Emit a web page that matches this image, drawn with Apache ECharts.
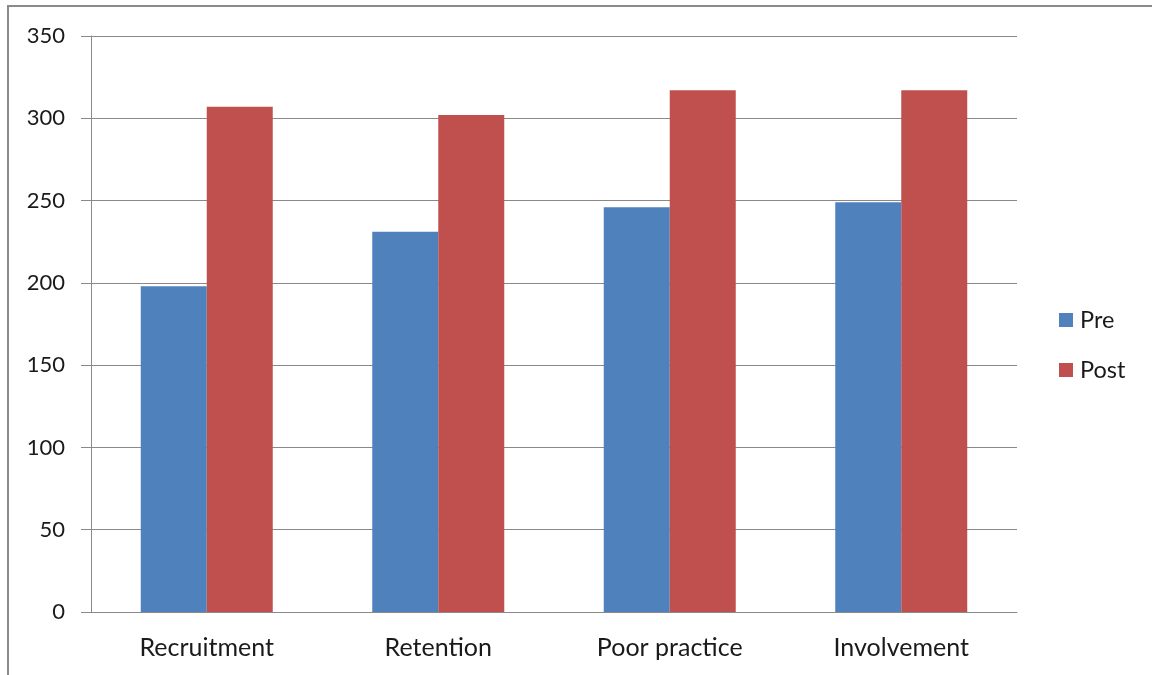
<!DOCTYPE html>
<html>
<head>
<meta charset="utf-8">
<script src="https://cdn.jsdelivr.net/npm/echarts@6/dist/echarts.min.js"></script>
<style>
  html, body { margin: 0; padding: 0; background: #fff; }
  #chart { width: 1152px; height: 675px; }
</style>
</head>
<body>
<div id="chart"></div>
<script>
// data
var categories = ['Recruitment', 'Retention', 'Poor practice', 'Involvement'];
var preValues = [198, 231, 246, 249];
var postValues = [307, 302, 317, 317];
var yTicks = [0, 50, 100, 150, 200, 250, 300, 350];

var myChart = echarts.init(document.getElementById('chart'));
var fontName = 'Lato';
var gray = '#898989';

var option = {
    animation: false,
    textStyle: { fontFamily: fontName },
    graphic: [{
        type: 'rect',
        shape: { x: 8, y: 6, width: 1200, height: 720 },
        style: { fill: 'none', stroke: '#8a8a8a', lineWidth: 2 }
    }],
    grid: { left: 91, right: 135, top: 36, bottom: 63 },
    legend: {
        orient: 'vertical',
        left: 1054,
        top: 303,
        itemWidth: 14,
        itemHeight: 14,
        itemGap: 26,
        icon: 'rect',
        textStyle: { fontSize: 23.5, color: '#1a1a1a', fontFamily: fontName, padding: [0, 0, 0, 2] },
        data: ['Pre', 'Post']
    },
    xAxis: {
        type: 'category',
        data: categories,
        axisLine: { lineStyle: { color: gray, width: 1 } },
        axisTick: { length: 9, lineStyle: { color: gray } },
        axisLabel: { fontSize: 25, color: '#1a1a1a', margin: 23, fontFamily: fontName }
    },
    yAxis: {
        type: 'value',
        min: yTicks[0],
        max: yTicks[yTicks.length - 1],
        interval: 50,
        axisLine: { show: true, lineStyle: { color: gray } },
        axisTick: { show: true, length: 10, lineStyle: { color: gray } },
        axisLabel: { fontSize: 22, color: '#1a1a1a', margin: 26, fontFamily: fontName },
        splitLine: { lineStyle: { color: gray, width: 1 } }
    },
    series: [{
        name: 'Pre',
        type: 'bar',
        data: preValues,
        barWidth: 66,
        barGap: '0%',
        itemStyle: { color: '#4F81BD' }
    }, {
        name: 'Post',
        type: 'bar',
        data: postValues,
        barWidth: 66,
        itemStyle: { color: '#C0504D' }
    }]
};

myChart.setOption(option);
</script>
</body>
</html>
